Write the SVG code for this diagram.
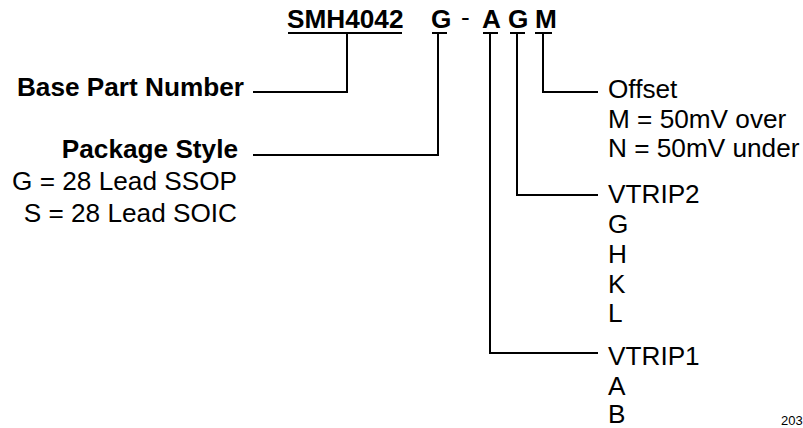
<svg xmlns="http://www.w3.org/2000/svg" width="803" height="428" viewBox="0 0 803 428">
<style>
text{font-family:"Liberation Sans",Arial,sans-serif;font-size:26.2px;fill:#000}
.b{font-weight:bold}
.e{text-anchor:end}
line,polyline{stroke:#000;stroke-width:2;fill:none}
</style>
<rect width="803" height="428" fill="#fff"/>
<g id="partcode">
<text class="b" x="287" y="28">SMH4042</text>
<text class="b" x="431" y="28">G</text>
<text x="461" y="26">-</text>
<text class="b" x="482" y="28">A</text>
<text class="b" x="508" y="28">G</text>
<text class="b" x="535" y="28">M</text>
<line x1="288" y1="33" x2="402" y2="33"/>
<line x1="432" y1="33" x2="447" y2="33"/>
<line x1="483" y1="33" x2="498" y2="33"/>
<line x1="510" y1="33" x2="525" y2="33"/>
<line x1="535" y1="33" x2="552" y2="33"/>
</g>
<g id="connectors">
<polyline points="347,34 347,92 253,92"/>
<polyline points="438,34 438,155 253,155"/>
<polyline points="543,34 543,92 598,92"/>
<polyline points="517,34 517,195 598,195"/>
<polyline points="490,34 490,353 598,353"/>
</g>
<g id="base">
<text class="b e" x="244" y="96">Base Part Number</text>
</g>
<g id="package">
<text class="b e" x="238" y="158">Package Style</text>
<text class="e" x="237" y="190">G = 28 Lead SSOP</text>
<text class="e" x="237" y="222">S = 28 Lead SOIC</text>
</g>
<g id="offset">
<text x="608" y="98">Offset</text>
<text x="608" y="128">M = 50mV over</text>
<text x="608" y="157">N = 50mV under</text>
</g>
<g id="vtrip2">
<text x="608" y="203">VTRIP2</text>
<text x="608" y="233">G</text>
<text x="608" y="263">H</text>
<text x="608" y="293">K</text>
<text x="608" y="322">L</text>
</g>
<g id="vtrip1">
<text x="608" y="365">VTRIP1</text>
<text x="608" y="395">A</text>
<text x="608" y="423">B</text>
</g>
<text x="781" y="425" style="font-size:13px">203</text>
</svg>
